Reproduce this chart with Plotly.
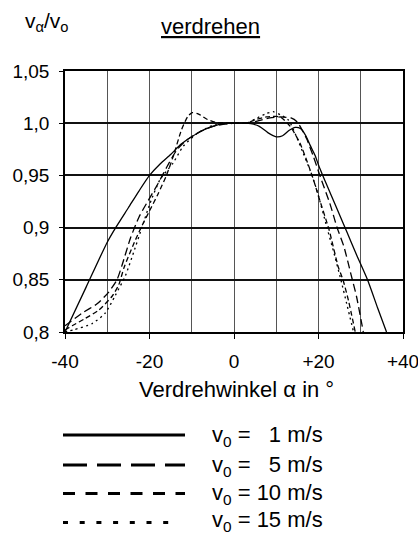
import plotly.graph_objects as go

# ---------------- data ----------------
angle_1 = [-40, -35, -30, -28, -25, -22.5, -20, -17.5, -15, -12.5, -10, -7.5, -5, -2.5, 0,
           2.5, 4, 6, 8, 10, 11.5, 13, 14.5, 15.7, 17, 18, 19.2, 20, 21, 23, 25, 26.7, 29,
           31.6, 34, 36.1]
ratio_1 = [0.800, 0.843, 0.886, 0.900, 0.919, 0.935, 0.950, 0.961, 0.970, 0.980, 0.987, 0.993,
           0.997, 0.9995, 1.000, 1.000, 0.9995, 0.997, 0.991, 0.987, 0.988, 0.993, 0.996, 0.995,
           0.988, 0.979, 0.969, 0.960, 0.950, 0.931, 0.912, 0.896, 0.874, 0.850, 0.823, 0.800]

angle_5 = [-40, -36, -32.4, -29.7, -27.7, -26.5, -24.5, -22.5, -20.3, -18, -15.9, -13.6, -11.2,
           -8, -5, 0, 3, 5.5, 8.5, 11, 13.5, 15, 16.2, 17.2, 18.8, 20.4, 22.7, 24.4, 26, 27.7,
           29, 30.6]
ratio_5 = [0.806, 0.818, 0.827, 0.838, 0.850, 0.864, 0.890, 0.910, 0.926, 0.942, 0.958, 0.974,
           0.984, 0.992, 0.997, 1.000, 1.000, 1.002, 1.005, 1.006, 1.005, 1.001, 0.993, 0.985,
           0.968, 0.949, 0.923, 0.900, 0.882, 0.855, 0.834, 0.800]

angle_10 = [-40, -38.3, -35.2, -32, -28.9, -27.3, -26, -24, -22, -20, -18, -16, -14.4, -12.4,
            -11, -10, -8.5, -6.5, -4.5, 0, 3, 5.5, 7.7, 10.9, 13.3, 15.6, 17.6, 18.8, 20, 22.5,
            24.7, 25.8, 27.1, 28.7]
ratio_10 = [0.802, 0.806, 0.813, 0.821, 0.834, 0.845, 0.862, 0.882, 0.900, 0.916, 0.932, 0.950,
            0.968, 0.994, 1.006, 1.010, 1.009, 1.004, 1.001, 1.000, 1.000, 1.004, 1.006, 1.006,
            0.997, 0.981, 0.960, 0.946, 0.930, 0.898, 0.862, 0.850, 0.830, 0.800]

angle_15 = [-40, -38, -33.6, -30.5, -28.1, -25.7, -23.7, -21.8, -19.9, -17.5, -14.4, -12, -8.8,
            -5, 0, 3, 5, 7.5, 9.3, 11, 12.9, 14.8, 16.4, 18, 19.6, 22, 23.7, 25.3, 26.8, 28.3]
ratio_15 = [0.800, 0.802, 0.808, 0.818, 0.835, 0.854, 0.877, 0.900, 0.923, 0.946, 0.962, 0.978,
            0.990, 0.998, 1.000, 1.000, 1.004, 1.009, 1.011, 1.008, 1.003, 0.987, 0.971, 0.955,
            0.936, 0.900, 0.875, 0.850, 0.825, 0.800]

legend_labels = ["v<sub>0</sub> =\u00a0\u00a0\u00a01 m/s",
                 "v<sub>0</sub> =\u00a0\u00a0\u00a05 m/s",
                 "v<sub>0</sub> = 10 m/s",
                 "v<sub>0</sub> = 15 m/s"]

x_tick_vals = [-40, -20, 0, 20, 40]
x_tick_text = ["-40", "-20", "0", "+20", "+40"]
y_tick_vals = [0.80, 0.85, 0.90, 0.95, 1.00, 1.05]
y_tick_text = ["0,8", "0,85", "0,9", "0,95", "1,0", "1,05"]

# ---------------- styles ----------------
plot_dash = ["solid", "8px,4px", "5px,3px", "2px,3.5px"]
legend_dash = ["solid", "24px,10px", "12px,10.5px", "5px,11.7px"]
legend_end = [185, 185, 185, 176]
FONT = "Liberation Sans, Arial, Helvetica, sans-serif"

W, H = 418, 537
L, R, T, B = 65, 15, 71, 205
PW, PH = W - L - R, H - T - B


def px_x(p):
    return (p - L) / PW


def px_y(p):
    return (H - B - p) / PH


fig = go.Figure()
series = [(angle_1, ratio_1), (angle_5, ratio_5), (angle_10, ratio_10), (angle_15, ratio_15)]
for (xs, ys), dash in zip(series, plot_dash):
    fig.add_trace(go.Scatter(
        x=xs, y=ys, mode="lines",
        line=dict(color="black", width=1.3, dash=dash, shape="spline", smoothing=0.6),
        showlegend=False, hoverinfo="skip", cliponaxis=True))

# manual legend
legend_rows_py = [435, 465, 493.5, 522.5]
legend_text_py = [436, 465.5, 493.5, 521]
shapes = []
annotations = []
for i, (lab, dash) in enumerate(zip(legend_labels, legend_dash)):
    yp = px_y(legend_rows_py[i])
    shapes.append(dict(type="line", xref="paper", yref="paper",
                       x0=px_x(63), x1=px_x(legend_end[i]), y0=yp, y1=yp,
                       line=dict(color="black", width=3, dash=dash)))
    annotations.append(dict(text=lab, xref="paper", yref="paper",
                            x=px_x(210), y=px_y(legend_text_py[i]),
                            xanchor="left", yanchor="middle", showarrow=False,
                            font=dict(family=FONT, size=22, color="black")))

annotations.append(dict(text="<u>verdrehen</u>", xref="paper", yref="paper",
                        x=px_x(210), y=px_y(27), xanchor="center", yanchor="middle",
                        showarrow=False, font=dict(family=FONT, size=22, color="black")))
annotations.append(dict(text="v<sub>α</sub>/v<sub>o</sub>", xref="paper", yref="paper",
                        x=px_x(23), y=px_y(22), xanchor="left", yanchor="middle",
                        showarrow=False, font=dict(family=FONT, size=21, color="black")))
annotations.append(dict(text="Verdrehwinkel α in °", xref="paper", yref="paper",
                        x=px_x(236), y=px_y(389), xanchor="center", yanchor="middle",
                        showarrow=False, font=dict(family=FONT, size=22, color="black")))

fig.update_layout(
    width=W, height=H,
    margin=dict(l=L, r=R, t=T, b=B, pad=0, autoexpand=False),
    paper_bgcolor="white", plot_bgcolor="white",
    shapes=shapes, annotations=annotations,
    showlegend=False,
)
fig.update_xaxes(
    range=[-40, 40], tickvals=x_tick_vals, ticktext=x_tick_text, automargin=False,
    ticks="outside", ticklen=5, tickwidth=1.3, tickcolor="black",
    ticklabeloverflow="allow",
    showgrid=True, gridcolor="#555", gridwidth=1.3,
    minor=dict(dtick=10, tick0=0, showgrid=True, gridcolor="#555", gridwidth=1.3, ticks=""),
    showline=True, linecolor="black", linewidth=1.5, mirror=True, zeroline=False,
    tickfont=dict(family=FONT, size=19, color="black"), ticklabelstandoff=6,
)
fig.update_yaxes(
    range=[0.8, 1.05], tickvals=y_tick_vals, ticktext=y_tick_text, automargin=False,
    ticks="outside", ticklen=4, tickwidth=1.3, tickcolor="black",
    ticklabeloverflow="allow",
    showgrid=True, gridcolor="#111", gridwidth=1.6,
    showline=True, linecolor="black", linewidth=1.5, mirror=True, zeroline=False,
    tickfont=dict(family=FONT, size=19, color="black"), ticklabelstandoff=6,
)

fig.write_html("out.html",
               config={"displayModeBar": False},
               post_script="document.body.style.margin='0px';document.body.style.overflow='hidden';")
